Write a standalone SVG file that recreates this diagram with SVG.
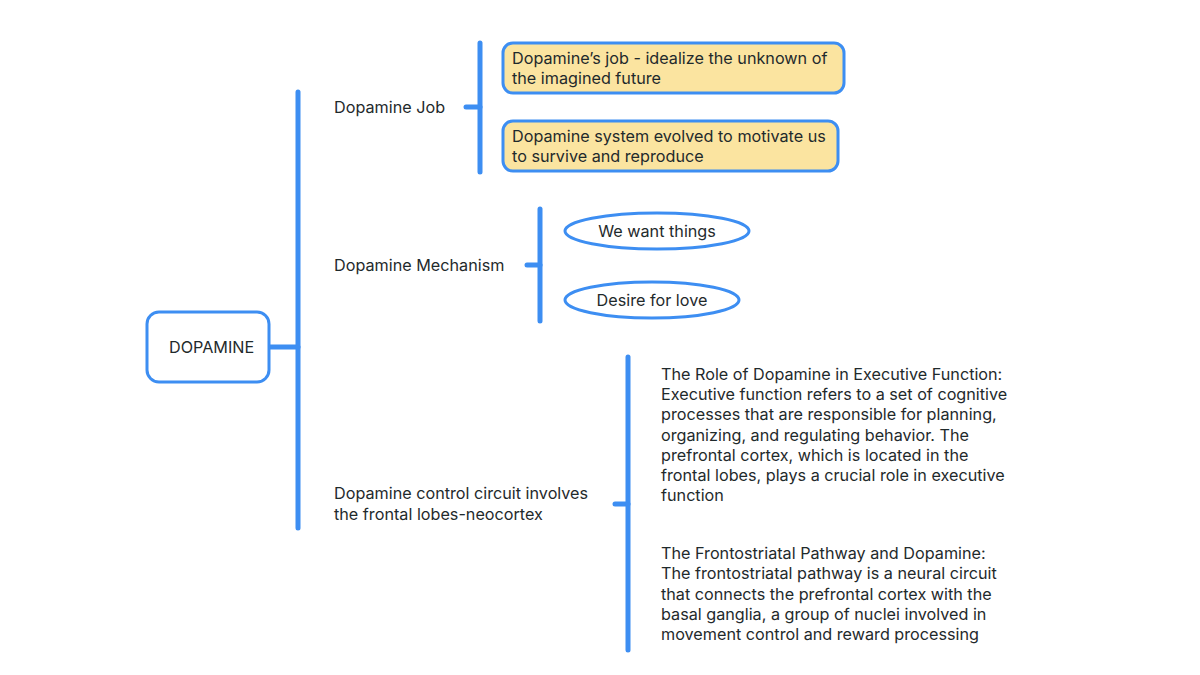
<svg xmlns="http://www.w3.org/2000/svg" width="1200" height="675" viewBox="0 0 1200 675">
<style>
.t{font-family:Inter,"Liberation Sans","Noto Sans",sans-serif;font-size:16.2px;fill:#1f2a2c}
.ln{stroke:#3d8ef2;stroke-width:5;stroke-linecap:round;fill:none}
.bx{stroke:#3d8ef2;stroke-width:3;fill:#ffffff}
.yb{stroke:#3d8ef2;stroke-width:3;fill:#fbe4a0}
</style>
<rect width="1200" height="675" fill="#ffffff"/>
<g id="connectors">
<line class="ln" x1="270" y1="347" x2="298" y2="347"/>
<line class="ln" x1="298" y1="92" x2="298" y2="528"/>
<line class="ln" x1="466" y1="107" x2="480" y2="107"/>
<line class="ln" x1="480" y1="43" x2="480" y2="172"/>
<line class="ln" x1="527" y1="265" x2="540" y2="265"/>
<line class="ln" x1="540" y1="209" x2="540" y2="321"/>
<line class="ln" x1="615" y1="504" x2="628" y2="504"/>
<line class="ln" x1="628" y1="357" x2="628" y2="650"/>
</g>
<g id="root">
<rect class="bx" x="147" y="312" width="122" height="70" rx="12"/>
<text class="t" x="169" y="353">DOPAMINE</text>
</g>
<g id="job">
<text class="t" x="334" y="113">Dopamine Job</text>
</g>
<g id="job1">
<rect class="yb" x="503" y="43" width="341" height="50" rx="10"/>
<text class="t" x="512" y="64">Dopamine’s job - idealize the unknown of</text>
<text class="t" x="512" y="84">the imagined future</text>
</g>
<g id="job2">
<rect class="yb" x="503" y="121" width="335" height="50" rx="10"/>
<text class="t" x="512" y="142">Dopamine system evolved to motivate us</text>
<text class="t" x="512" y="162">to survive and reproduce</text>
</g>
<g id="mech">
<text class="t" x="334" y="271">Dopamine Mechanism</text>
</g>
<g id="mech1">
<ellipse class="bx" cx="657" cy="231" rx="92" ry="18"/>
<text class="t" x="657" y="237" text-anchor="middle">We want things</text>
</g>
<g id="mech2">
<ellipse class="bx" cx="652" cy="300" rx="87" ry="18"/>
<text class="t" x="652" y="306" text-anchor="middle">Desire for love</text>
</g>
<g id="circuit">
<text class="t" x="334" y="499">Dopamine control circuit involves</text>
<text class="t" x="334" y="520">the frontal lobes-neocortex</text>
</g>
<g id="exec">
<text class="t" x="661" y="380">The Role of Dopamine in Executive Function:</text>
<text class="t" x="661" y="400">Executive function refers to a set of cognitive</text>
<text class="t" x="661" y="420">processes that are responsible for planning,</text>
<text class="t" x="661" y="441">organizing, and regulating behavior. The</text>
<text class="t" x="661" y="461">prefrontal cortex, which is located in the</text>
<text class="t" x="661" y="481">frontal lobes, plays a crucial role in executive</text>
<text class="t" x="661" y="501">function</text>
</g>
<g id="fronto">
<text class="t" x="661" y="559">The Frontostriatal Pathway and Dopamine:</text>
<text class="t" x="661" y="579">The frontostriatal pathway is a neural circuit</text>
<text class="t" x="661" y="600">that connects the prefrontal cortex with the</text>
<text class="t" x="661" y="620">basal ganglia, a group of nuclei involved in</text>
<text class="t" x="661" y="640">movement control and reward processing</text>
</g>
</svg>
